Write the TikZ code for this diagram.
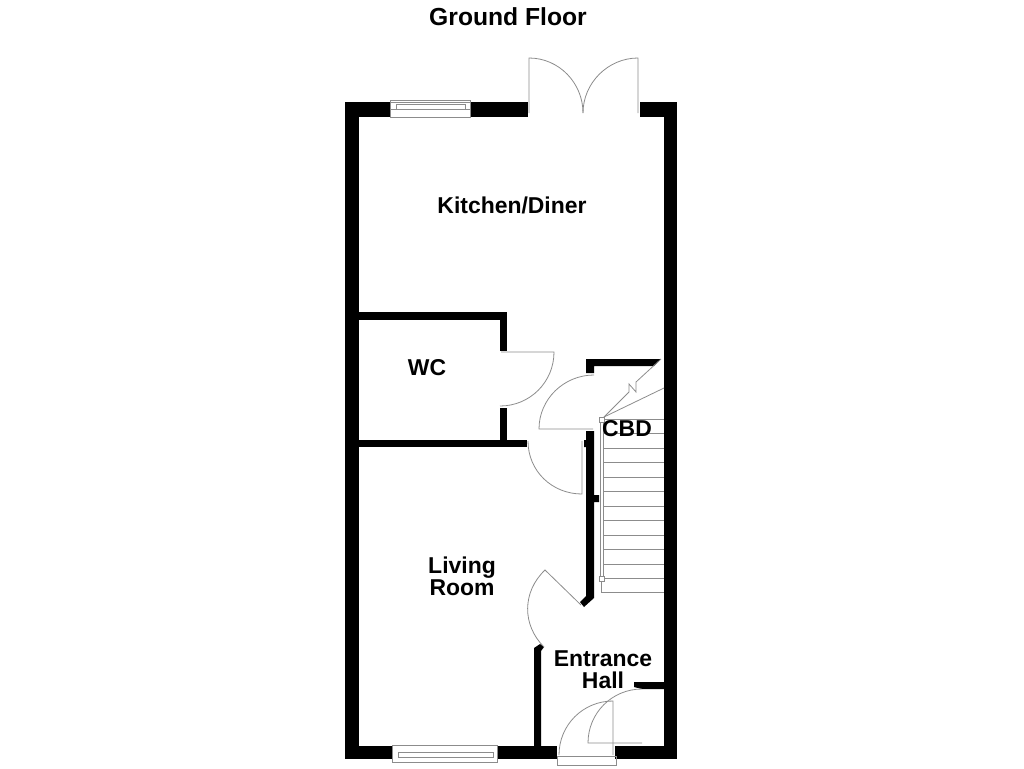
\documentclass[tikz,border=0pt]{standalone}
\usepackage{fontspec}
\setmainfont{Liberation Sans}
\tikzset{
 wall/.style={fill=black,draw=none},
 fixture/.style={draw=black!45,line width=.6pt},
 room/.style={font=\fontsize{17.2}{16.5}\selectfont\bfseries,align=center,inner sep=0pt}
}
\begin{document}
\begin{tikzpicture}[x=.75pt,y=-.75pt]
\useasboundingbox (0,0) rectangle (1024,768);
% outer walls
\fill[wall](345,102)rectangle(359,759);
\fill[wall](664,102)rectangle(677,759);
\fill[wall](345,102)rectangle(390,117);
\fill[wall](470,102)rectangle(528,117);
\fill[wall](640,102)rectangle(677,117);
\fill[wall](345,746)rectangle(392,759);
\fill[wall](497,746)rectangle(557,759);
\fill[wall](615,746)rectangle(677,759);
% inner walls
\fill[wall](359,312)rectangle(507,320);
\fill[wall](500,312)rectangle(507,351);
\fill[wall](500,408)rectangle(507,447);
\fill[wall](359,440)rectangle(527,447);
\fill[wall](586,359)--(661,359)--(654,366)--(594,366)--(594,373)--(586,373)--cycle;
\fill[wall](586,431)--(594,431)--(594,495)--(599,495)--(599,502)--(594,502)--(594,598)--(584,607)--(580,602)--(586,596)--(586,447)--(584,447)--(584,440)--(586,440)--cycle;
\fill[wall](534,648)--(540,644)--(544,647)--(541,651)--(541,746)--(534,746)--cycle;
\fill[wall](634,682)--(664,682)--(664,689)--(642,689)--(634,687)--cycle;
% windows
\draw[fixture](390,100)rectangle(470,117);
\draw[fixture](390,102)--(470,102);
\draw[fixture](396,104)rectangle(465,109);
\draw[fixture](396,109)--(390,109);
\draw[fixture](465,109)--(470,109);
\draw[fixture](392,745)rectangle(497,762);
\draw[fixture](398,752)rectangle(493,757);
% french doors
\draw[fixture](529,113)--(529,58).. controls (559,58) and (583,83) .. (583,113);
\draw[fixture](638,113)--(638,58).. controls (608,58) and (583,83) .. (583,113);
% doors
\draw[fixture](501,352)--(554,352).. controls (554,382) and (530,406) .. (500,406);
\draw[fixture](594,375).. controls (564,375) and (539,399) .. (539,429)--(593,429);
\draw[fixture](528,441).. controls (528,471) and (552,494) .. (582,494)--(582,441);
\draw[fixture](581,605)--(545,570).. controls (522,592) and (522,625) .. (544,647);
% entrance door
\draw[fixture](557,756)rectangle(616,765);
\draw[fixture](559,755).. controls (559,725) and (583,701) .. (613,701)--(613,755);
\draw[fixture](642,743)--(588,743).. controls (588,713) and (612,689) .. (642,689);
% stairs
\foreach \s in {419,433.5,448,462.5,477,491.5,506,520.5,535,549.5,564,578,592.5}
 \draw[fixture](603,\s)--(664,\s);
\draw[fixture](600,419)--(600,578);
\draw[fixture](603,419)--(603,578);
\draw[fixture](601,578)--(601,592.5)--(603,592.5);
\draw[fixture,fill=white](599,417)rectangle(604,422);
\draw[fixture,fill=white](599,576)rectangle(604,581);
\draw[fixture](604,417)--(664,388);
\draw[fixture](604,417)--(629,392)--(629,384)--(636,392)--(636,382)--(661,359);
% labels
\node[room,font=\fontsize{18.5}{20}\selectfont\bfseries](title)at(508,17){Ground Floor};
\node[room](kitchen)at(512,205){Kitchen/Diner};
\node[room](wc)at(427,368){WC};
\node[room](living)at(462,576){Living\\Room};
\node[room](hall)at(603,670){Entrance\\Hall};
\node[room](cbd)at(627,429){CBD};
\end{tikzpicture}
\end{document}
